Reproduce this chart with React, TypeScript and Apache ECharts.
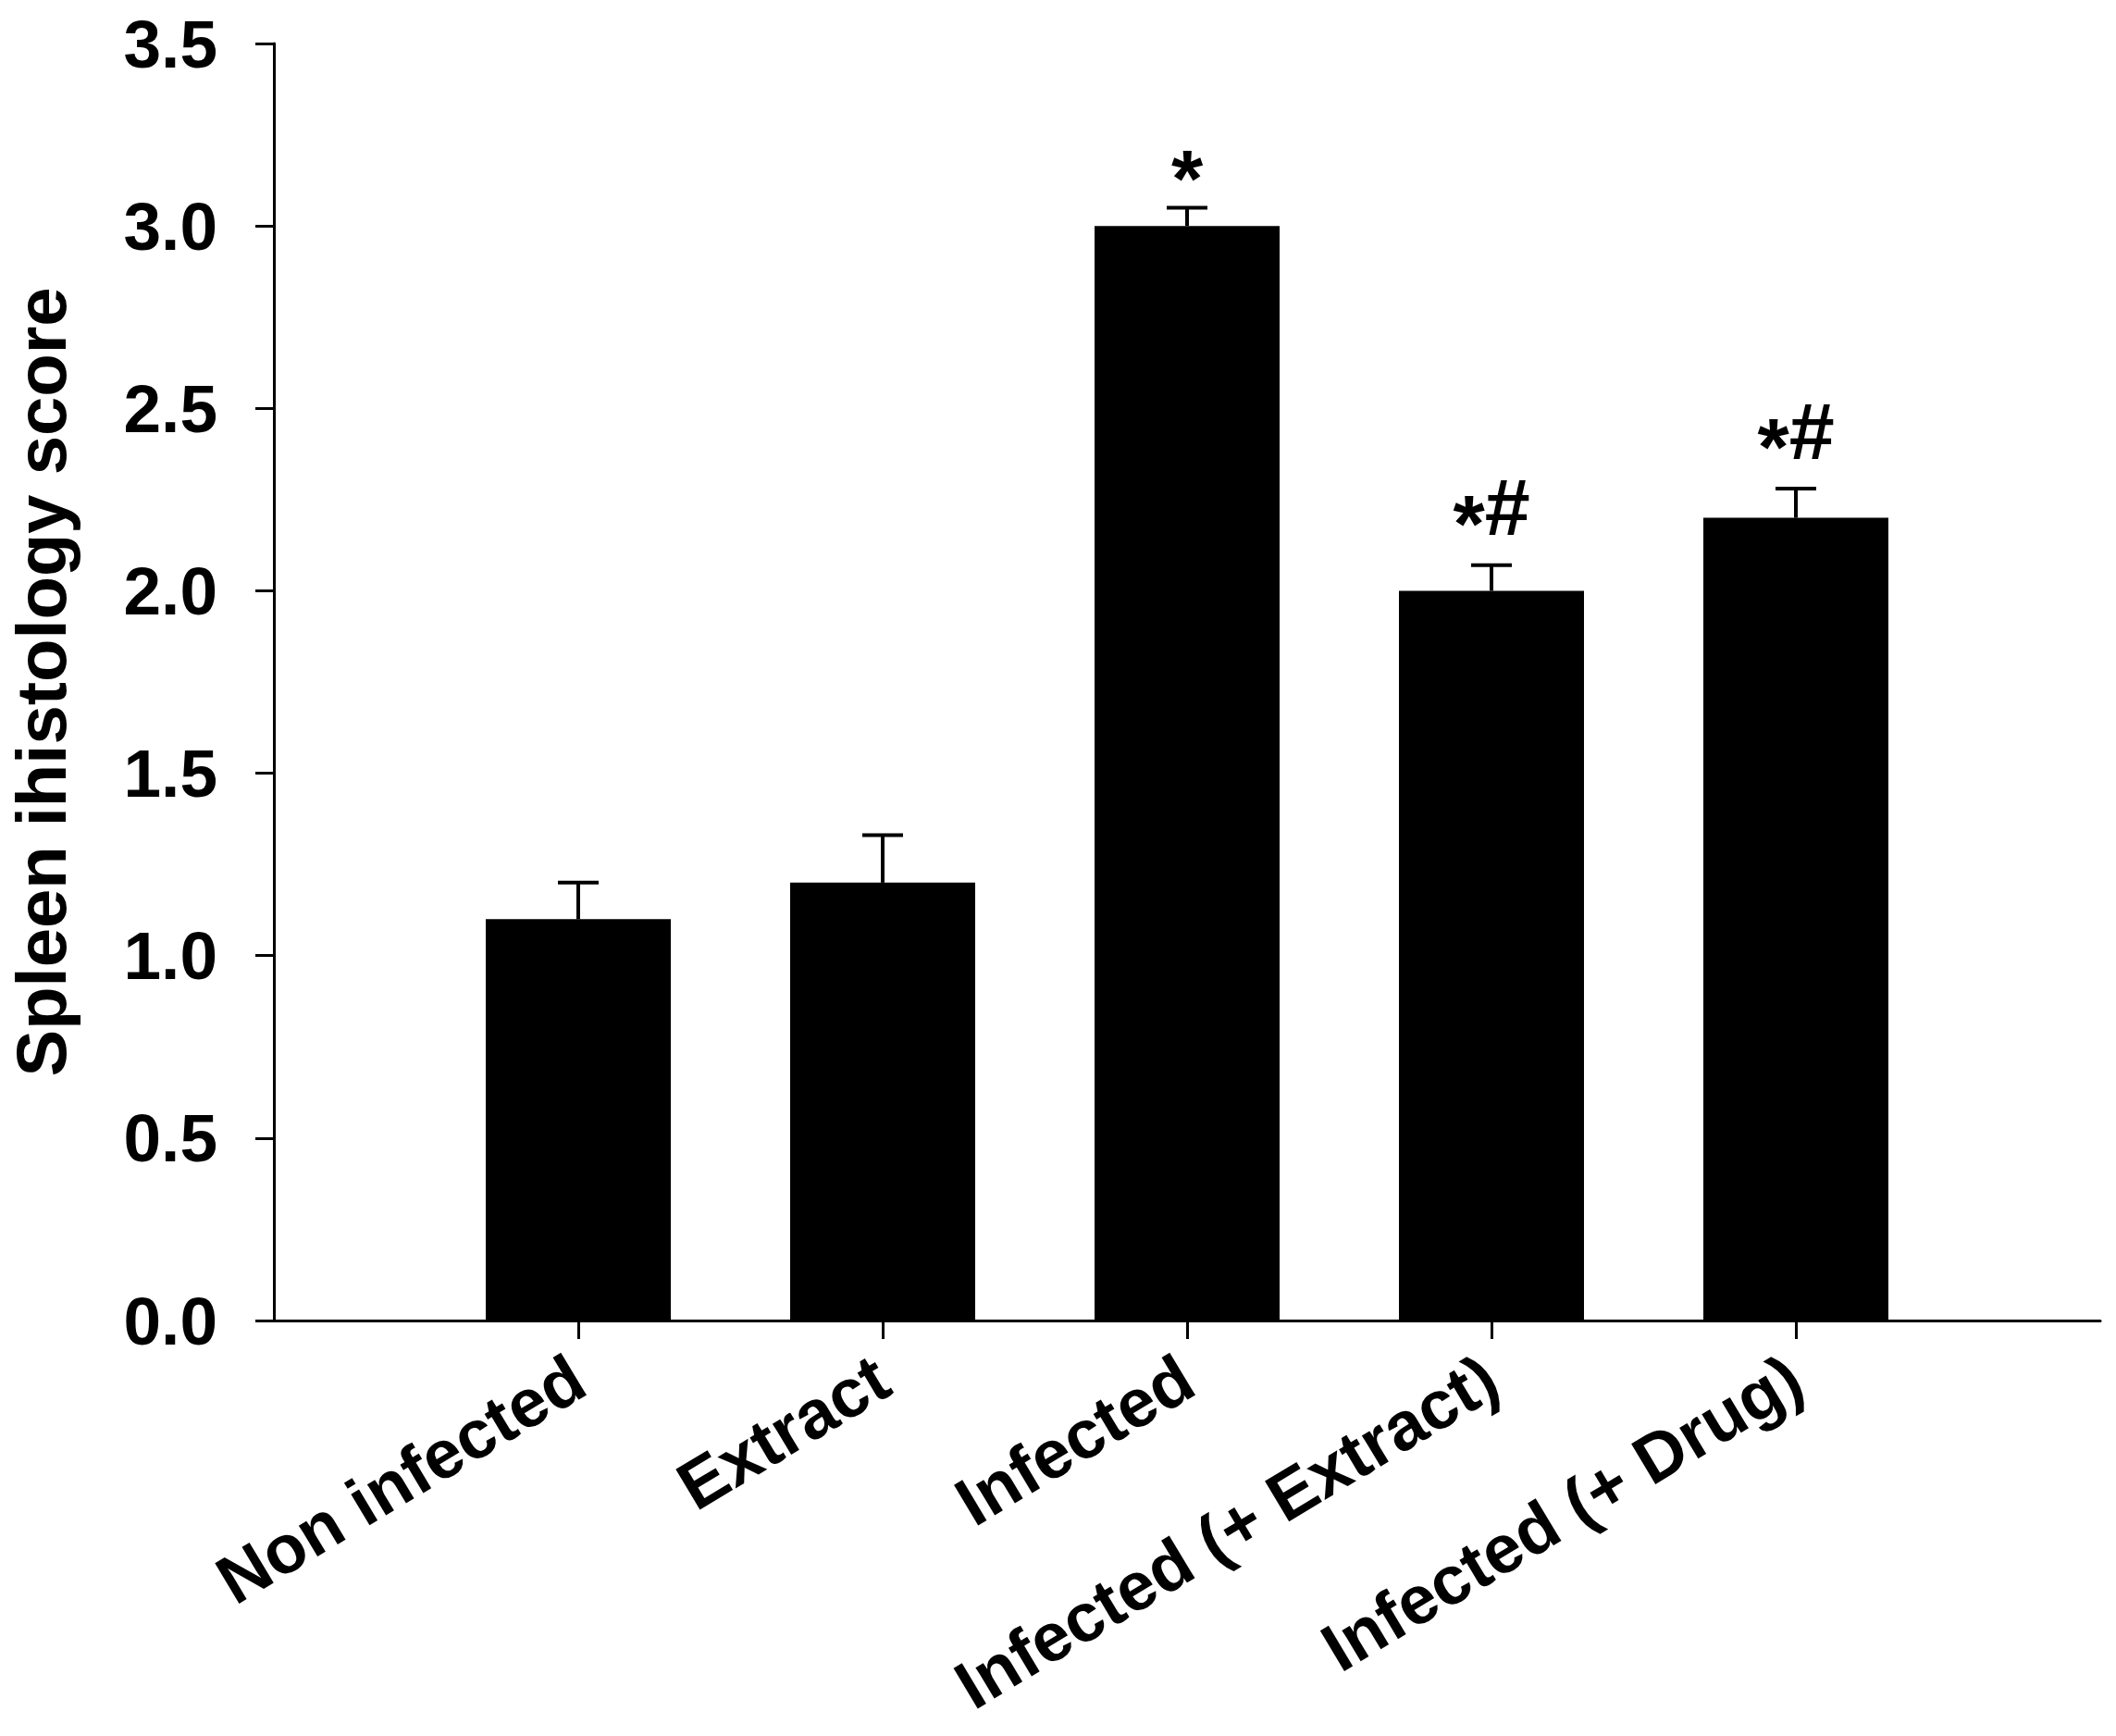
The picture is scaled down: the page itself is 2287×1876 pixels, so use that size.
import React, { useEffect, useRef } from 'react';
import * as echarts from 'echarts';

const categories = ['Non infected', 'Extract', 'Infected', 'Infected (+ Extract)', 'Infected (+ Drug)'];
const means = [1.1, 1.2, 3.0, 2.0, 2.2];
const errorUpper = [1.2, 1.33, 3.05, 2.07, 2.28];
const annotations = ['', '', '*', '*#', '*#'];
const yAxisTitle = 'Spleen ihistology score';
const yMin = 0;
const yMax = 3.5;
const yStep = 0.5;

const FONT = '"Liberation Sans", Arial, Helvetica, sans-serif';
const CHAR_W: Record<string, number> = { '*': 0.389, '#': 0.556 };

export default function App() {
  const ref = useRef<HTMLDivElement>(null);
  useEffect(() => {
    document.body.style.margin = '0';
    const chart = echarts.init(ref.current as HTMLDivElement, null, { renderer: 'svg' });
    const xData = ['', ...categories, ''];
    const barData: any[] = ['-', ...means, '-'];
    const errData = categories.map((_, i) => [i + 1, means[i], errorUpper[i]]);
    const annFs = 88;

    chart.setOption({
      animation: false,
      backgroundColor: '#ffffff',
      grid: {
        left: 296,
        right: 17,
        top: 47,
        bottom: 449,
        containLabel: false,
        outerBoundsMode: 'none',
      },
      xAxis: {
        type: 'category',
        data: xData,
        boundaryGap: false,
        axisLine: { show: true, lineStyle: { color: '#000', width: 3 } },
        axisTick: {
          show: true,
          length: 20,
          lineStyle: { color: '#000', width: 3 },
          interval: (i: number) => i >= 1 && i <= categories.length,
        },
        axisLabel: {
          interval: 0,
          rotate: 31,
          margin: 56,
          color: '#000',
          fontSize: 74,
          fontWeight: 'bold',
          fontFamily: FONT,
        },
        splitLine: { show: false },
      },
      yAxis: {
        type: 'value',
        min: yMin,
        max: yMax,
        interval: yStep,
        name: yAxisTitle,
        nameLocation: 'middle',
        nameGap: 214,
        nameTextStyle: { color: '#000', fontSize: 76, fontWeight: 'bold', fontFamily: FONT },
        axisLine: { show: true, lineStyle: { color: '#000', width: 3 } },
        axisTick: { show: true, length: 20, lineStyle: { color: '#000', width: 3 } },
        axisLabel: {
          margin: 61,
          color: '#000',
          fontSize: 73,
          fontWeight: 'bold',
          fontFamily: FONT,
          formatter: (v: number) => v.toFixed(1),
        },
        splitLine: { show: false },
      },
      series: [
        {
          type: 'bar',
          data: barData,
          barWidth: 200,
          itemStyle: { color: '#000' },
          z: 2,
        },
        {
          type: 'custom',
          data: errData,
          encode: { x: 0, y: [1, 2] },
          clip: false,
          z: 3,
          renderItem: (params: any, api: any) => {
            const idx = api.value(0);
            const m = api.value(1);
            const hi = api.value(2);
            const base = api.coord([idx, m]);
            const top = api.coord([idx, hi]);
            const x = base[0];
            const children: any[] = [
              { type: 'line', shape: { x1: x, y1: base[1], x2: x, y2: top[1] }, style: { stroke: '#000', lineWidth: 4 } },
              { type: 'line', shape: { x1: x - 22, y1: top[1], x2: x + 22, y2: top[1] }, style: { stroke: '#000', lineWidth: 4 } },
            ];
            const ann = annotations[params.dataIndex] || '';
            if (ann.length) {
              const chars = ann.split('');
              const total = chars.reduce((s, c) => s + (CHAR_W[c] || 0.55) * annFs, 0);
              const central = top[1] - (chars.length === 1 ? 32 : 63);
              let cx = x - total / 2;
              chars.forEach((c) => {
                const w = (CHAR_W[c] || 0.55) * annFs;
                const dy = c === '*' ? (chars.length === 1 ? 0 : 0.2 * annFs) : 0;
                children.push({
                  type: 'text',
                  style: {
                    text: c,
                    x: cx,
                    y: central + dy,
                    align: 'left',
                    verticalAlign: 'middle',
                    fill: '#000',
                    font: `bold ${annFs}px ${FONT}`,
                  },
                });
                cx += w;
              });
            }
            return { type: 'group', children };
          },
        },
      ],
    });
    return () => {
      chart.dispose();
    };
  }, []);
  return <div ref={ref} style={{ width: 2287, height: 1876 }} />;
}
